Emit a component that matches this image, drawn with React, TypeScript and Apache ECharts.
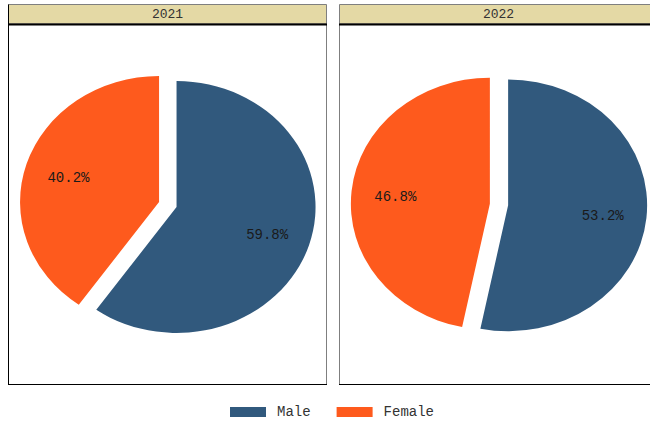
import React, { useEffect, useRef } from "react";
import * as echarts from "echarts";

const years = ["2021", "2022"];
const categories = ["Male", "Female"];
const maleShare = [59.8, 53.2];
const femaleShare = [40.2, 46.8];
const shares = [maleShare, femaleShare];
const colors = ["#31597D", "#FE5A1D"];

const FONT = "'Liberation Mono', 'Courier New', monospace";
const PIE_CX = [167.8, 499];
const PIE_CY = 204.5;
const RX = 139;
const RY = 126;
const EXPLODE = 0.066;
const LABEL_R = 0.75;
const PANEL_X = [8.5, 339.5];
const PANEL_W = 318;
const STRIP_TOP = 4.5;
const STRIP_BOTTOM = 24;
const PANEL_BOTTOM = 384.5;

export default function App() {
  const ref = useRef<HTMLDivElement>(null);

  useEffect(() => {
    if (!ref.current) return;
    const chart = echarts.init(ref.current, undefined, { renderer: "svg" });

    const grids = years.map((_, i) => ({
      left: PIE_CX[i] - RX,
      top: PIE_CY - RY,
      width: 2 * RX,
      height: 2 * RY,
    }));
    const xAxes = years.map((_, i) => ({ type: "value", gridIndex: i, min: -1, max: 1, show: false }));
    const yAxes = years.map((_, i) => ({ type: "value", gridIndex: i, min: -1, max: 1, show: false }));

    const series: any[] = [];
    years.forEach((_, yi) => {
      const total = shares.reduce((s, arr) => s + arr[yi], 0);
      let cum = 0;
      categories.forEach((cat, ci) => {
        const v = shares[ci][yi];
        const start = cum / total;
        const end = (cum + v) / total;
        cum += v;
        series.push({
          type: "custom",
          name: cat,
          xAxisIndex: yi,
          yAxisIndex: yi,
          color: colors[ci],
          itemStyle: { color: colors[ci] },
          data: [[start, end, v]],
          renderItem: (params: any, api: any) => {
            const s = api.value(0);
            const e = api.value(1);
            const val = api.value(2);
            const c = api.coord([0, 0]);
            const rx = api.size([1, 0])[0];
            const ry = api.size([0, 1])[1];
            const a0 = -Math.PI / 2 + s * 2 * Math.PI;
            const a1 = -Math.PI / 2 + e * 2 * Math.PI;
            const m = (a0 + a1) / 2;
            const dx = EXPLODE * rx * Math.cos(m);
            const dy = EXPLODE * ry * Math.sin(m);
            return {
              type: "group",
              children: [
                {
                  type: "sector",
                  shape: { cx: 0, cy: 0, r: rx, r0: 0, startAngle: a0, endAngle: a1, clockwise: true },
                  x: c[0] + dx,
                  y: c[1] + dy,
                  scaleX: 1,
                  scaleY: ry / rx,
                  style: { fill: colors[ci] },
                },
                {
                  type: "text",
                  x: c[0] + LABEL_R * rx * Math.cos(m),
                  y: c[1] + LABEL_R * ry * Math.sin(m) + 2,
                  style: {
                    text: val.toFixed(1) + "%",
                    fill: "#1a1a1a",
                    font: `14px ${FONT}`,
                    align: "center",
                    verticalAlign: "middle",
                  },
                },
              ],
            };
          },
        });
      });
    });

    const graphics: any[] = [];
    years.forEach((yr, i) => {
      const x = PANEL_X[i];
      graphics.push(
        {
          type: "rect",
          z: -5,
          shape: { x, y: STRIP_TOP, width: PANEL_W, height: STRIP_BOTTOM - STRIP_TOP },
          style: { fill: "#E4D9A5", stroke: "#7f7f7f", lineWidth: 1 },
        },
        {
          type: "rect",
          z: -5,
          shape: { x, y: STRIP_BOTTOM, width: PANEL_W, height: PANEL_BOTTOM - STRIP_BOTTOM },
          style: { fill: "#ffffff", stroke: "#7f7f7f", lineWidth: 1 },
        },
        {
          type: "line",
          z: -4,
          shape: { x1: x - 0.5, y1: STRIP_BOTTOM + 0.5, x2: x + PANEL_W + 0.5, y2: STRIP_BOTTOM + 0.5 },
          style: { stroke: "#000000", lineWidth: 2 },
        },
        {
          type: "line",
          z: -4,
          shape: { x1: x - 0.5, y1: PANEL_BOTTOM, x2: x + PANEL_W + 0.5, y2: PANEL_BOTTOM },
          style: { stroke: "#000000", lineWidth: 1 },
        },
        {
          type: "text",
          z: -3,
          x: x + PANEL_W / 2,
          y: (STRIP_TOP + STRIP_BOTTOM) / 2,
          style: {
            text: yr,
            fill: "#333333",
            font: `13px ${FONT}`,
            align: "center",
            verticalAlign: "middle",
          },
        }
      );
    });
    graphics.push({
      type: "line",
      z: -4,
      shape: { x1: PANEL_X[0], y1: STRIP_TOP, x2: PANEL_X[0], y2: PANEL_BOTTOM },
      style: { stroke: "#000000", lineWidth: 1 },
    });

    chart.setOption({
      animation: false,
      backgroundColor: "#ffffff",
      grid: grids,
      xAxis: xAxes,
      yAxis: yAxes,
      legend: {
        data: categories,
        left: 230,
        top: 405,
        padding: 0,
        icon: "rect",
        itemWidth: 36,
        itemHeight: 10,
        itemGap: 26,
        selectedMode: false,
        textStyle: { fontFamily: FONT, fontSize: 14, color: "#333333", padding: [0, 0, 0, 6] },
      },
      graphic: graphics,
      series,
    });

    return () => chart.dispose();
  }, []);

  return (
    <div
      ref={ref}
      style={{ position: "fixed", left: 0, top: 0, width: 650, height: 421 }}
    />
  );
}
